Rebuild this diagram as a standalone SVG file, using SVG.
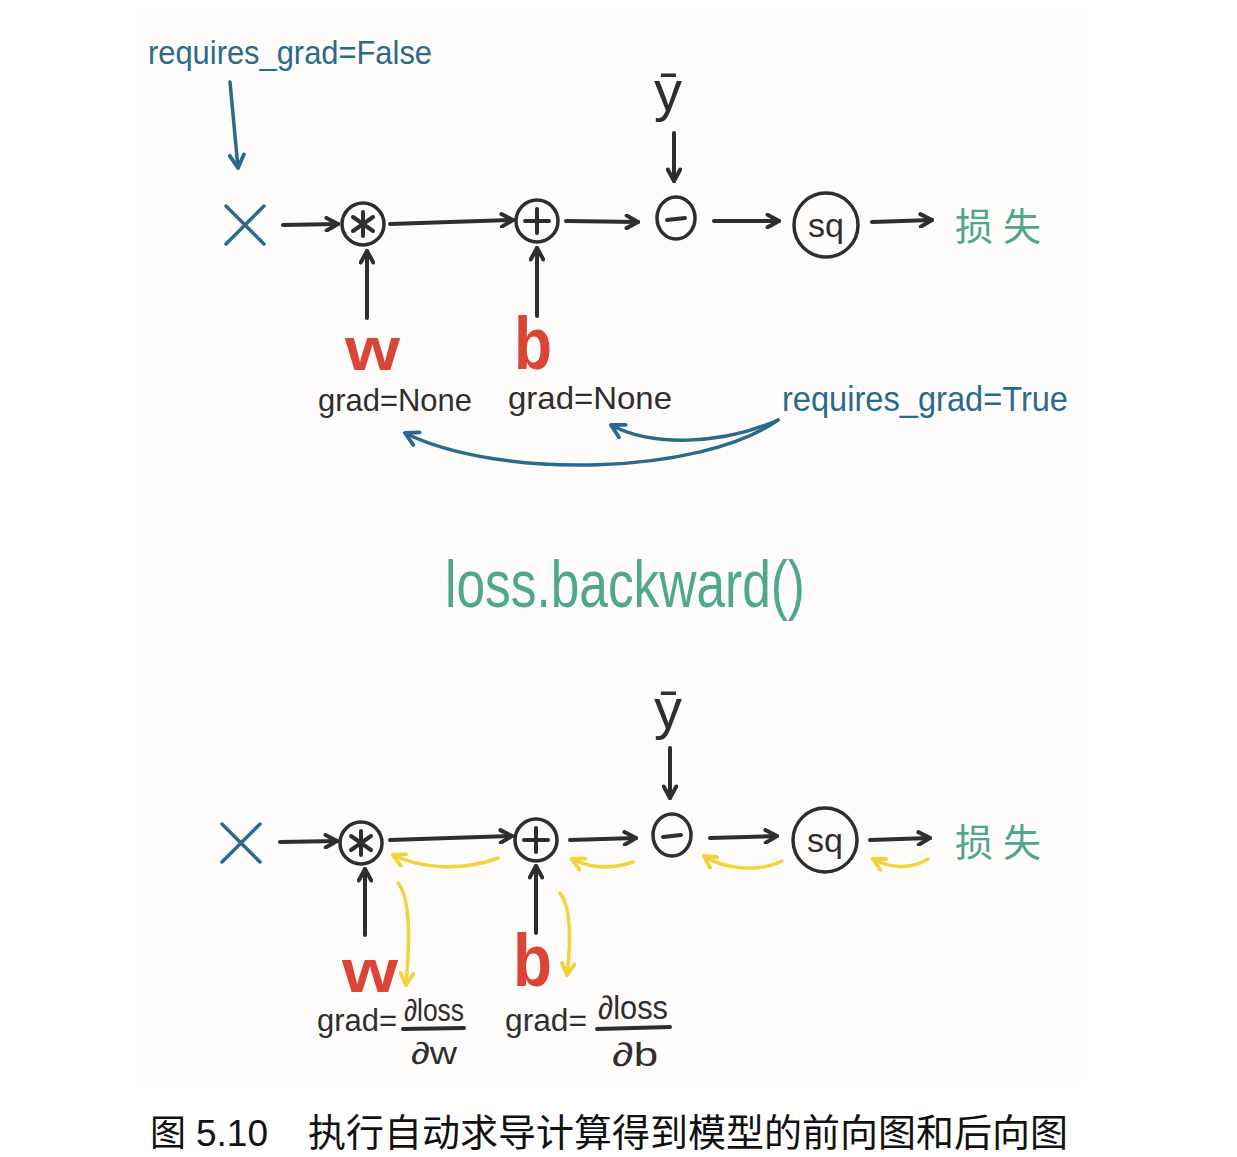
<svg xmlns="http://www.w3.org/2000/svg" width="1237" height="1157" viewBox="0 0 1237 1157">
<defs>
<style>
.bg{fill:#fdfcfa}
.ink{fill:none;stroke:#2e2e2e;stroke-width:4;stroke-linecap:round;stroke-linejoin:round}
.node{fill:none;stroke:#2e2e2e;stroke-width:3.5}
.blue{fill:none;stroke:#2b6a8c;stroke-width:3.5;stroke-linecap:round}
.yel{fill:none;stroke:#f1d33c;stroke-width:3.5;stroke-linecap:round}
.hand{font-family:"Liberation Sans","DejaVu Sans",sans-serif}
.tb{fill:#2b6a8c}
.tk{fill:#2e2e2e}
.tr{fill:#da4537;font-weight:bold}
.tg{fill:#4fa88d}
.cap{font-family:"Liberation Sans","Noto Sans CJK SC",sans-serif;fill:#111}
</style>
<marker id="ak" viewBox="0 0 14 14" refX="12" refY="7" markerWidth="16" markerHeight="16" orient="auto" markerUnits="userSpaceOnUse"><path d="M2,1.5 L12,7 L2,12.5" fill="none" stroke="#2e2e2e" stroke-width="3.5" stroke-linecap="round" stroke-linejoin="round"/></marker>
<marker id="ab" viewBox="0 0 14 14" refX="12" refY="7" markerWidth="18" markerHeight="18" orient="auto" markerUnits="userSpaceOnUse"><path d="M2,1.5 L12,7 L2,12.5" fill="none" stroke="#2b6a8c" stroke-width="3" stroke-linecap="round" stroke-linejoin="round"/></marker>
<marker id="ay" viewBox="0 0 14 14" refX="12" refY="7" markerWidth="16" markerHeight="16" orient="auto" markerUnits="userSpaceOnUse"><path d="M2,1.5 L12,7 L2,12.5" fill="none" stroke="#f1d33c" stroke-width="3.5" stroke-linecap="round" stroke-linejoin="round"/></marker>
</defs>
<rect class="bg" x="137" y="8" width="944" height="1074"/>

<!-- ===== Forward graph ===== -->
<g id="label-req-false"><text class="hand tb" x="148" y="64" font-size="34" textLength="284" lengthAdjust="spacingAndGlyphs">requires_grad=False</text></g>
<g id="x-top"><path class="blue" d="M226,206 L264,244 M264,206 L226,244" stroke-width="5"/></g>
<g id="mul-top"><circle class="node" cx="363" cy="224" r="21"/><path class="ink" d="M363,212 L363,236 M353,217 L373,231 M373,217 L353,231" stroke-width="3.5"/></g>
<g id="add-top"><circle class="node" cx="537" cy="221" r="21"/><path class="ink" d="M537,209 L537,233 M525,221 L549,221" stroke-width="3.5"/></g>
<g id="sub-top"><ellipse class="node" cx="676" cy="218" rx="19" ry="21"/><path class="ink" d="M667,220 L685,218" stroke-width="3.5"/></g>
<g id="ybar-top"><text class="hand tk" x="668" y="110" font-size="56" text-anchor="middle">ȳ</text></g>
<g id="sq-top"><circle class="node" cx="826" cy="225" r="32"/><text class="hand tk" x="826" y="237" font-size="34" text-anchor="middle">sq</text></g>
<g id="loss-top"><text class="cap" x="955" y="240" font-size="38" letter-spacing="10" style="fill:#4fa88d">损失</text></g>
<g id="w-top"><text class="hand tr" x="345" y="370" font-size="62" textLength="55" lengthAdjust="spacingAndGlyphs">w</text><text class="hand tk" x="318" y="411" font-size="32" textLength="154" lengthAdjust="spacingAndGlyphs">grad=None</text></g>
<g id="b-top"><text class="hand tr" x="514" y="369" font-size="74" textLength="38" lengthAdjust="spacingAndGlyphs">b</text><text class="hand tk" x="508" y="409" font-size="32" textLength="164" lengthAdjust="spacingAndGlyphs">grad=None</text></g>
<g id="label-req-true"><text class="hand tb" x="782" y="411" font-size="35" textLength="286" lengthAdjust="spacingAndGlyphs">requires_grad=True</text></g>

<g id="connectors-top">
<path class="blue" d="M230,82 L238,168" marker-end="url(#ab)"/>
<path class="ink" d="M283,225 L338,224" marker-end="url(#ak)"/>
<path class="ink" d="M390,224 L513,220" marker-end="url(#ak)"/>
<path class="ink" d="M566,221 L638,222" marker-end="url(#ak)"/>
<path class="ink" d="M674,133 L674,181" marker-end="url(#ak)"/>
<path class="ink" d="M714,221 L779,221" marker-end="url(#ak)"/>
<path class="ink" d="M872,222 L932,220" marker-end="url(#ak)"/>
<path class="ink" d="M367,318 L367,251" marker-end="url(#ak)"/>
<path class="ink" d="M537,316 L537,248" marker-end="url(#ak)"/>
<path class="blue" d="M778,420 C700,475 500,480 405,433" marker-end="url(#ab)"/>
<path class="blue" d="M778,420 C720,446 650,446 611,425" marker-end="url(#ab)"/>
</g>

<!-- ===== loss.backward() ===== -->
<g id="backward-label"><text class="hand tg" x="445" y="607" font-size="66" textLength="360" lengthAdjust="spacingAndGlyphs">loss.backward()</text></g>

<!-- ===== Backward graph ===== -->
<g id="x-bot"><path class="blue" d="M222,824 L260,862 M260,824 L222,862" stroke-width="5"/></g>
<g id="mul-bot"><circle class="node" cx="361" cy="843" r="21"/><path class="ink" d="M361,831 L361,855 M351,836 L371,850 M371,836 L351,850" stroke-width="3.5"/></g>
<g id="add-bot"><circle class="node" cx="536" cy="840" r="21"/><path class="ink" d="M536,828 L536,852 M524,840 L548,840" stroke-width="3.5"/></g>
<g id="sub-bot"><ellipse class="node" cx="672" cy="835" rx="19" ry="21"/><path class="ink" d="M663,837 L681,835" stroke-width="3.5"/></g>
<g id="ybar-bot"><text class="hand tk" x="668" y="728" font-size="56" text-anchor="middle">ȳ</text></g>
<g id="sq-bot"><circle class="node" cx="825" cy="840" r="32"/><text class="hand tk" x="825" y="852" font-size="34" text-anchor="middle">sq</text></g>
<g id="loss-bot"><text class="cap" x="955" y="856" font-size="38" letter-spacing="10" style="fill:#4fa88d">损失</text></g>
<g id="w-bot"><text class="hand tr" x="342" y="992" font-size="62" textLength="56" lengthAdjust="spacingAndGlyphs">w</text>
<text class="hand tk" x="317" y="1031" font-size="31" textLength="80" lengthAdjust="spacingAndGlyphs">grad=</text>
<text class="hand tk" x="434" y="1021" font-size="31" text-anchor="middle" textLength="60" lengthAdjust="spacingAndGlyphs">∂loss</text>
<path class="ink" d="M403,1029 L464,1028" stroke-width="3"/>
<text class="hand tk" x="434" y="1064" font-size="31" text-anchor="middle" textLength="46" lengthAdjust="spacingAndGlyphs">∂w</text></g>
<g id="b-bot"><text class="hand tr" x="513" y="986" font-size="74" textLength="39" lengthAdjust="spacingAndGlyphs">b</text>
<text class="hand tk" x="505" y="1031" font-size="31" textLength="82" lengthAdjust="spacingAndGlyphs">grad=</text>
<text class="hand tk" x="633" y="1019" font-size="33" text-anchor="middle" textLength="70" lengthAdjust="spacingAndGlyphs">∂loss</text>
<path class="ink" d="M597,1029 L670,1027" stroke-width="3"/>
<text class="hand tk" x="635" y="1066" font-size="33" text-anchor="middle" textLength="46" lengthAdjust="spacingAndGlyphs">∂b</text></g>

<g id="connectors-bot">
<path class="ink" d="M670,748 L670,798" marker-end="url(#ak)"/>
<path class="ink" d="M280,842 L337,841" marker-end="url(#ak)"/>
<path class="ink" d="M390,840 L512,836" marker-end="url(#ak)"/>
<path class="ink" d="M570,840 L636,838" marker-end="url(#ak)"/>
<path class="ink" d="M710,838 L777,836" marker-end="url(#ak)"/>
<path class="ink" d="M870,840 L930,838" marker-end="url(#ak)"/>
<path class="ink" d="M365,935 L365,869" marker-end="url(#ak)"/>
<path class="ink" d="M536,933 L536,866" marker-end="url(#ak)"/>
<path class="yel" d="M498,858 C460,872 420,868 393,855" marker-end="url(#ay)"/>
<path class="yel" d="M633,862 C610,870 590,868 572,859" marker-end="url(#ay)"/>
<path class="yel" d="M782,861 C760,872 725,870 704,856" marker-end="url(#ay)"/>
<path class="yel" d="M928,859 C910,870 890,868 873,859" marker-end="url(#ay)"/>
<path class="yel" d="M398,883 C412,900 409,950 406,985" marker-end="url(#ay)"/>
<path class="yel" d="M560,893 C573,910 570,950 567,975" marker-end="url(#ay)"/>
</g>

<!-- ===== Caption ===== -->
<g id="caption"><text class="cap" y="1146" font-size="38"><tspan x="150" font-size="36">图</tspan><tspan x="196" font-size="37">5.10</tspan><tspan x="308">执行自动求导计算得到模型的前向图和后向图</tspan></text></g>
</svg>
